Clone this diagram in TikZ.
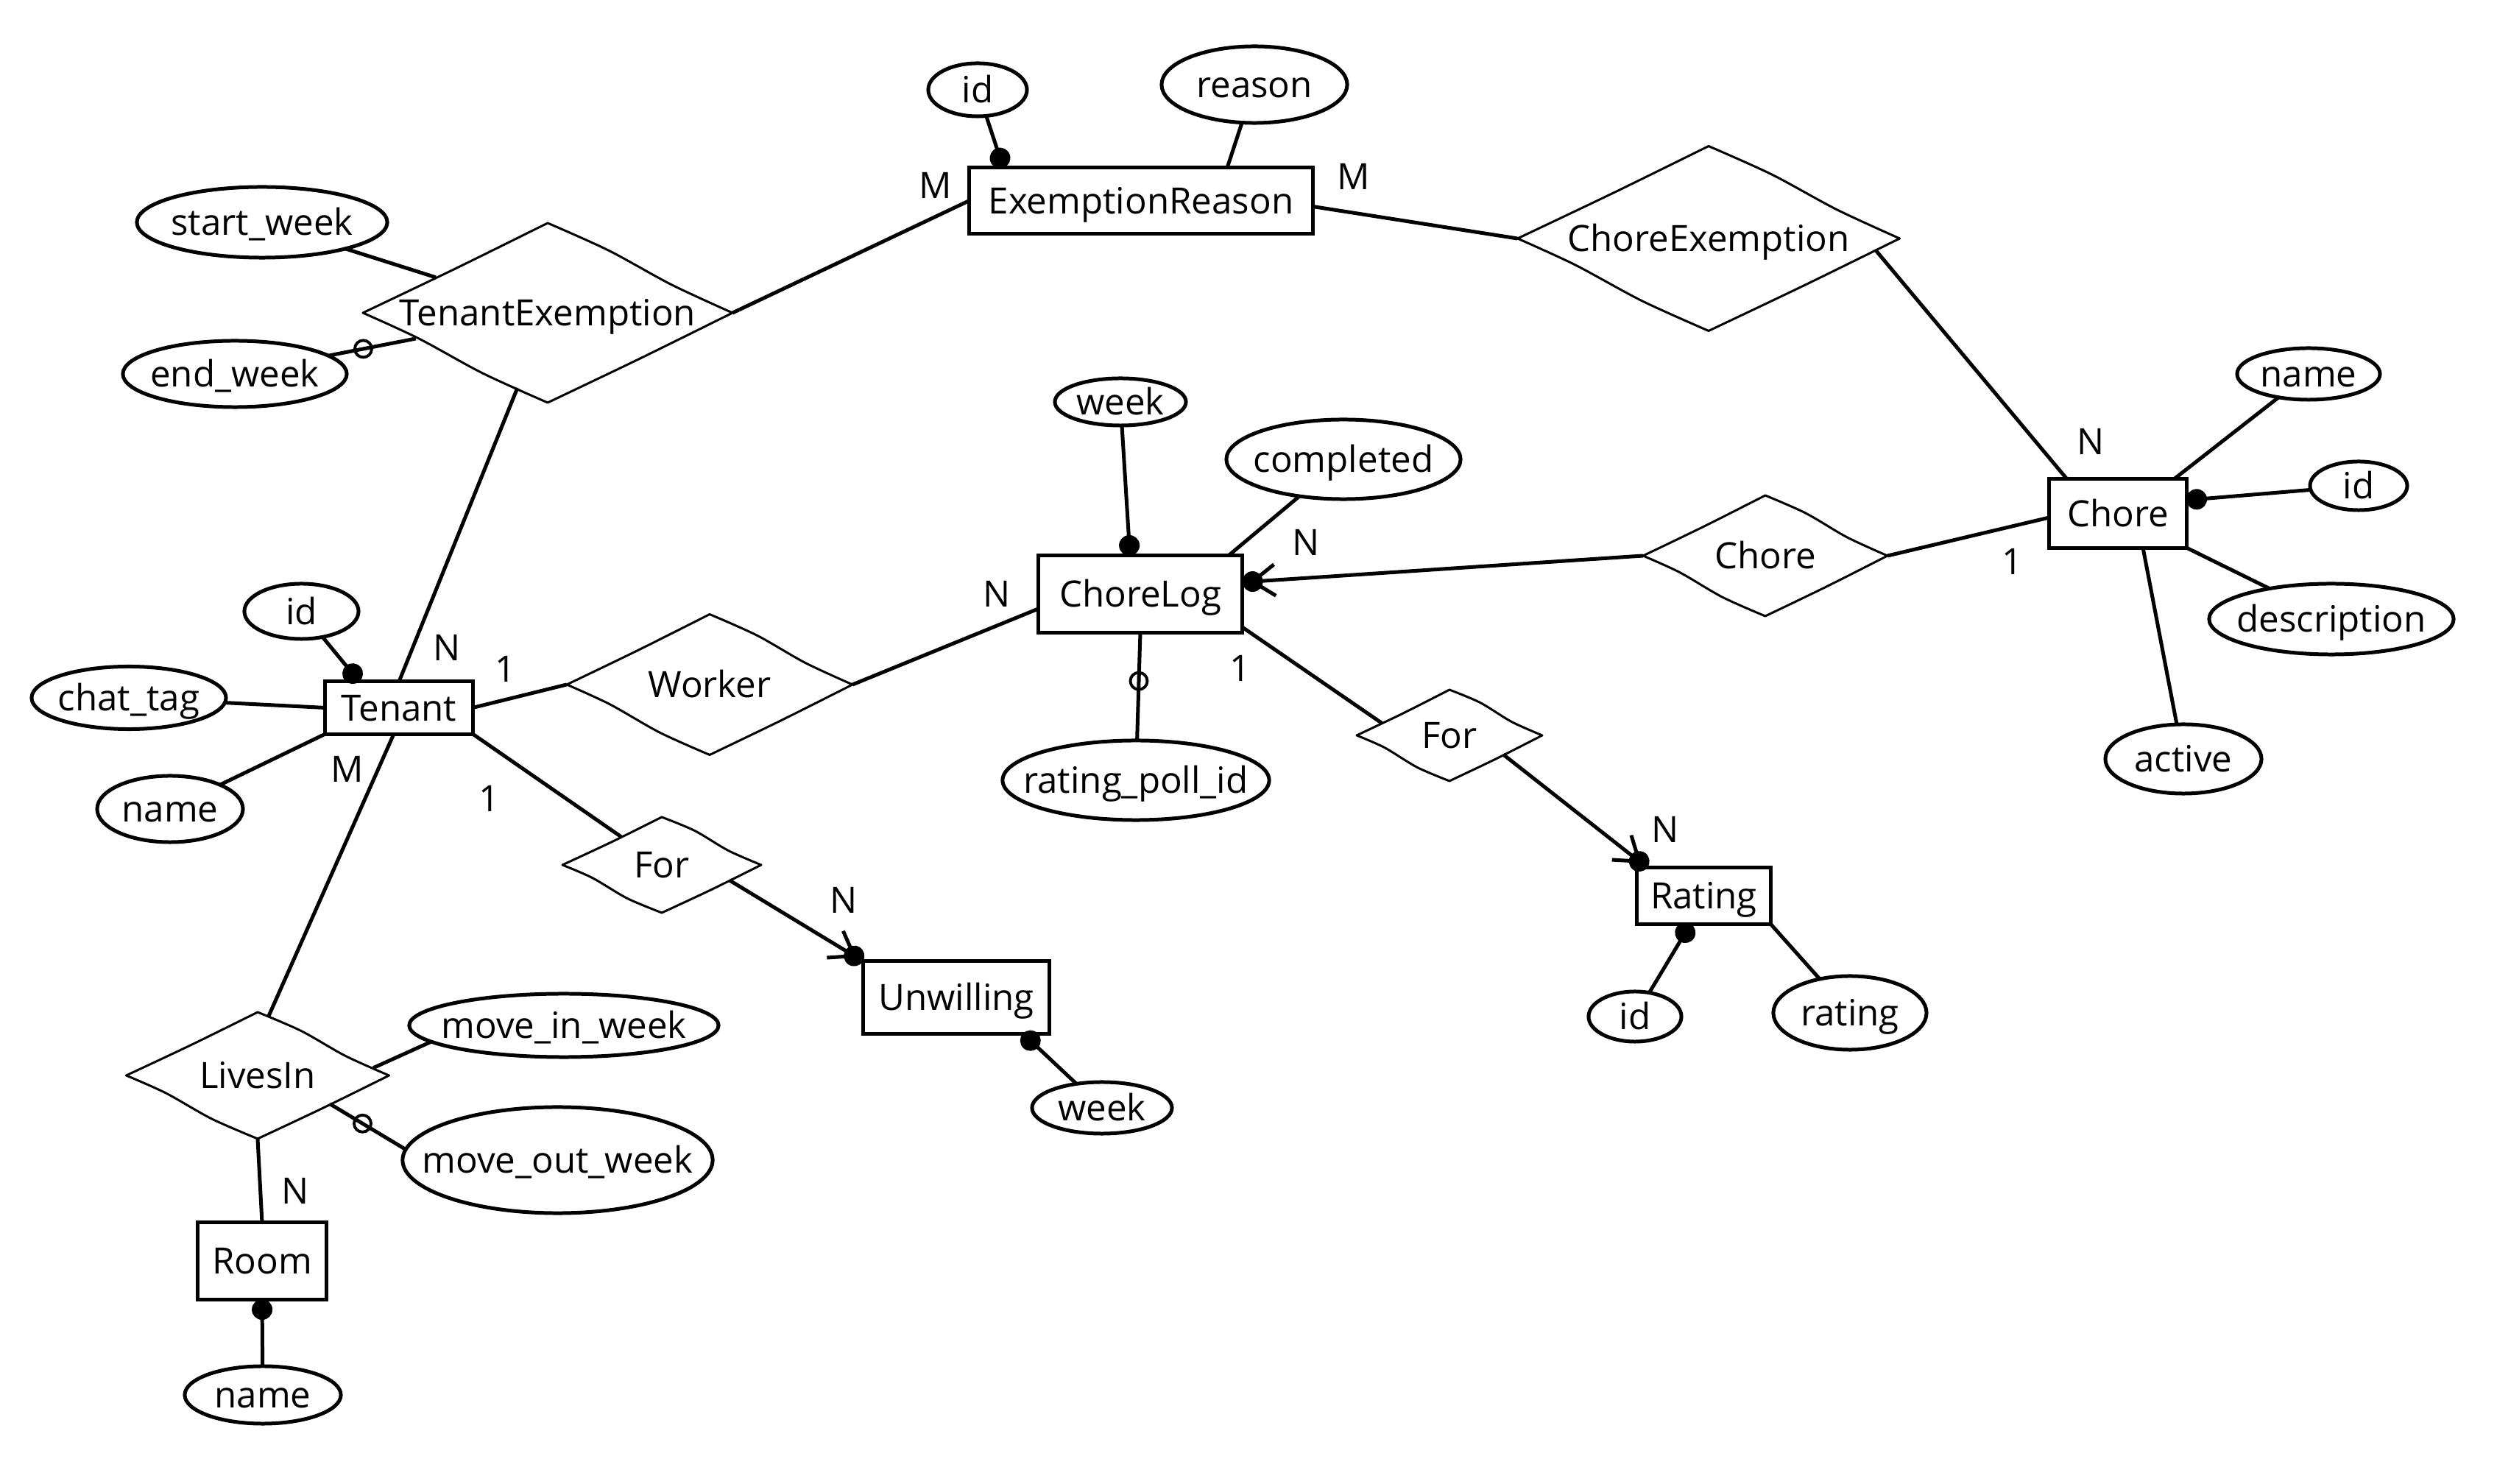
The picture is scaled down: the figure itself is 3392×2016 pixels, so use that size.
\documentclass[tikz,border=0pt]{standalone}
\usepackage{fontspec}
\setmainfont{Open Sans}
\usetikzlibrary{shapes.geometric,calc,decorations.markings}
\newcommand\relshape[6]{%
 \node[dianode, minimum width=#4*0.02cm, minimum height=#5*0.02cm] (#1) at (#2,#3) {};
 \node (#1-t) at (#2,#3) {#6};
 \draw[dialine] plot[smooth,tension=.5] coordinates {(#2,{#3-#5}) ({#2+.33*#4},{#3-.67*#5-3}) ({#2+.67*#4},{#3-.33*#5+2}) ({#2+#4},#3)};
 \draw[dialine] plot[smooth,tension=.5] coordinates {({#2+#4},#3) ({#2+.5*#4},{#3+.5*#5+1}) (#2,{#3+#5})};
 \draw[dialine] plot[smooth,tension=.5] coordinates {(#2,{#3+#5}) ({#2-.35*#4},{#3+.65*#5+3}) ({#2-.7*#4},{#3+.3*#5-2}) ({#2-#4},#3)};
 \draw[dialine] plot[smooth,tension=.5] coordinates {({#2-#4},#3) ({#2-.5*#4},{#3-.5*#5+1}) (#2,{#3-#5})};
}
\begin{document}
\begin{tikzpicture}[x=0.01cm,y=-0.01cm,
 every node/.style={font=\fontsize{14pt}{16pt}\selectfont, text height=10pt, text depth=0pt, inner sep=0pt, outer sep=0pt},
 ent/.style={draw, rectangle, line width=1.42pt},
 attr/.style={draw, ellipse, line width=1.42pt},
 dianode/.style={diamond, draw=none},
 conn/.style={line width=1.42pt},
 dialine/.style={line width=0.85pt, line cap=round, line join=round},
 keydot/.style={postaction={decorate,decoration={markings,mark=at position 1 with {\fill (-0.14cm,0) circle[radius=0.14cm];}}}},
 many/.style={postaction={decorate,decoration={markings,mark=at position 1 with {\fill (-0.14cm,0) circle[radius=0.14cm]; \draw[line width=1.42pt] (-0.14cm,0) -- ++(145:0.37cm) (-0.14cm,0) -- ++(-145:0.37cm);}}}},
 ocirc/.style={circle, draw, line width=1.1pt, minimum size=0.23cm, text height=0pt, text depth=0pt},
]
\path[use as bounding box, fill=white] (0,0) rectangle (3392,2016);

% entities
\node[ent, minimum width=4.66cm, minimum height=0.89cm] (er) at (1550,272.5) {ExemptionReason};
\node[ent, minimum width=2.00cm, minimum height=0.71cm] (tenant) at (542,961.5) {Tenant};
\node[ent, minimum width=2.77cm, minimum height=1.04cm] (chorelog) at (1549,807) {ChoreLog};
\node[ent, minimum width=2.53cm, minimum height=0.98cm] (unw) at (1299,1355) {Unwilling};
\node[ent, minimum width=1.81cm, minimum height=0.76cm] (rating) at (2314.5,1217) {Rating};
\node[ent, minimum width=1.86cm, minimum height=0.93cm] (chore) at (2877,697.5) {Chore};
\node[ent, minimum width=1.75cm, minimum height=1.04cm] (room) at (356,1713) {Room};

% relationships
\relshape{te}{744}{425}{251}{122}{TenantExemption}
\relshape{ce}{2321}{324}{259.5}{125.5}{ChoreExemption}
\relshape{worker}{964}{930}{194}{95.5}{Worker}
\relshape{fort}{899}{1175}{135}{65}{For}
\relshape{chored}{2398}{755}{166}{82}{Chore}
\relshape{forr}{1969}{999}{126}{62}{For}
\relshape{ls}{350}{1461}{178.5}{86}{LivesIn}

% attributes
\node[attr, minimum width=1.34cm, minimum height=0.72cm] (erid) at (1328,122) {\makebox[0pt]{id}};
\node[attr, minimum width=2.52cm, minimum height=1.04cm] (reason) at (1704,115) {\makebox[0pt]{reason}};
\node[attr, minimum width=3.40cm, minimum height=0.96cm] (startweek) at (356,302) {\makebox[0pt]{start\_week}};
\node[attr, minimum width=3.04cm, minimum height=0.90cm] (endweek) at (319,508) {\makebox[0pt]{end\_week}};
\node[attr, minimum width=1.55cm, minimum height=0.75cm] (tid) at (409.5,830.5) {\makebox[0pt]{id}};
\node[attr, minimum width=2.64cm, minimum height=0.85cm] (chattag) at (175,948) {\makebox[0pt]{chat\_tag}};
\node[attr, minimum width=1.98cm, minimum height=0.90cm] (tname) at (231,1099) {\makebox[0pt]{name}};
\node[attr, minimum width=1.78cm, minimum height=0.64cm] (cweek) at (1522,546) {\makebox[0pt]{week}};
\node[attr, minimum width=3.18cm, minimum height=1.08cm] (completed) at (1825,624) {\makebox[0pt]{completed}};
\node[attr, minimum width=3.62cm, minimum height=1.08cm] (rpid) at (1543,1060) {\makebox[0pt]{rating\_poll\_id}};
\node[attr, minimum width=1.90cm, minimum height=0.70cm] (uweek) at (1497,1505) {\makebox[0pt]{week}};
\node[attr, minimum width=1.26cm, minimum height=0.68cm] (rid) at (2221,1381) {\makebox[0pt]{id}};
\node[attr, minimum width=2.08cm, minimum height=1.00cm] (rrating) at (2513,1376) {\makebox[0pt]{rating}};
\node[attr, minimum width=1.94cm, minimum height=0.70cm] (cname) at (3136,508) {\makebox[0pt]{name}};
\node[attr, minimum width=1.32cm, minimum height=0.66cm] (cid) at (3204,660) {\makebox[0pt]{id}};
\node[attr, minimum width=3.32cm, minimum height=0.96cm] (desc) at (3167,841) {\makebox[0pt]{description}};
\node[attr, minimum width=2.12cm, minimum height=0.94cm] (active) at (2966,1031) {\makebox[0pt]{active}};
\node[attr, minimum width=4.20cm, minimum height=0.86cm] (movein) at (766,1393) {\makebox[0pt]{move\_in\_week}};
\node[attr, minimum width=4.21cm, minimum height=1.44cm] (moveout) at (757.5,1576) {\makebox[0pt]{move\_out\_week}};
\node[attr, minimum width=2.12cm, minimum height=0.78cm] (rname) at (357,1895) {\makebox[0pt]{name}};

% cardinalities
\node (c1) at (1271,252) {M};
\node (c2) at (1839,240) {M};
\node (c3) at (2840,600) {N};
\node (c4) at (607,880) {N};
\node (c5) at (687,909) {1};
\node (c6) at (472,1045) {M};
\node (c7) at (665,1085) {1};
\node (c8) at (1146,1223) {N};
\node (c9) at (1354,807) {N};
\node (c10) at (1774,737) {N};
\node (c11) at (1685,908) {1};
\node (c12) at (2734,763) {1};
\node (c13) at (2262,1127) {N};
\node (c14) at (401,1618) {N};

% connectors
\draw[conn,keydot] (erid) -- ([xshift=.46cm]er.north west);
\draw[conn] (reason) -- ([xshift=3.5cm]er.north west);
\draw[conn] (te.east) -- (er.west);
\draw[conn] ([yshift=-.08cm]er.east) -- (ce.west);
\draw[conn] (ce.-4) -- ([xshift=.24cm]chore.north west);
\draw[conn] (te) -- (tenant.north);
\draw[conn] (startweek) -- (te);
\draw[conn] (endweek) -- node[ocirc,pos=.4]{} (te);
\draw[conn,keydot] (tid) -- ([xshift=.46cm]tenant.north west);
\draw[conn] (chattag) -- (tenant.west);
\draw[conn] (tname) -- (tenant.south west);
\draw[conn] ([xshift=-.07cm]tenant.south) -- ($(ls.north)!0.08!(ls.east)$);
\draw[conn] (tenant.east) -- (worker.west);
\draw[conn] (worker.east) -- ([yshift=-.2cm]chorelog.west);
\draw[conn] (tenant.south east) -- (fort);
\draw[conn,many] ($(fort.east)!0.32!(fort.south)$) -- (unw.north west);
\draw[conn,keydot] (uweek) -- ([xshift=-.36cm]unw.south east);
\draw[conn,keydot] (cweek) -- ([xshift=-.14cm]chorelog.north);
\draw[conn] (completed) -- ([xshift=-.19cm]chorelog.north east);
\draw[conn,many] (chored.west) -- ([yshift=.16cm]chorelog.east);
\draw[conn] (chorelog.south) -- node[ocirc,pos=.45]{} (rpid);
\draw[conn] ([yshift=.07cm]chorelog.south east) -- ($(forr.west)!0.27!(forr.north)$);
\draw[conn,many] ($(forr.east)!0.42!(forr.south)$) -- ([xshift=.14cm]rating.north west);
\draw[conn,keydot] (rid) -- ([xshift=-.18cm]rating.south);
\draw[conn] (rating.south east) -- (rrating);
\draw[conn] (chored.east) -- ([yshift=-.055cm]chore.west);
\draw[conn] ([xshift=-.17cm]chore.north east) -- (cname);
\draw[conn,keydot] (cid) -- ([yshift=.18cm]chore.east);
\draw[conn] (chore.south east) -- (desc);
\draw[conn] ([xshift=-.59cm]chore.south east) -- (active);
\draw[conn] ($(ls.east)!0.12!(ls.north)$) -- (movein.187);
\draw[conn] ($(ls.east)!0.45!(ls.south)$) -- node[ocirc,pos=.43]{} (moveout.176);
\draw[conn] (ls.south) -- (room.north);
\draw[conn,keydot] (rname) -- (room.south);
\end{tikzpicture}
\end{document}
